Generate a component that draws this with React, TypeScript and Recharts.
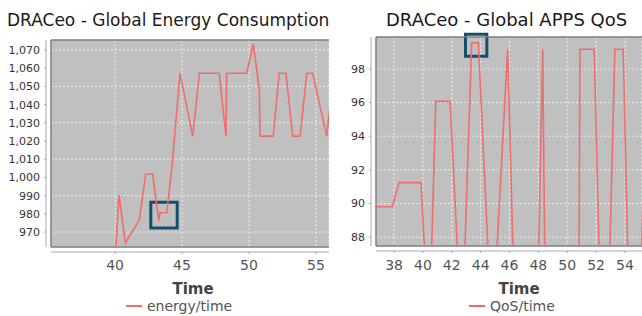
import React from 'react';
import { LineChart, Line, XAxis, YAxis, CartesianGrid, Legend, ReferenceArea, ReferenceLine } from 'recharts';

const FONT = '"DejaVu Sans", Verdana, sans-serif';
const RED = '#f26c6c';
const BOX_BLUE = '#134f6c';
const AXIS = '#a8a8a8';
const BORDER = '#7c7c7c';

// left chart: energy/time
const energyTime = [40.0, 40.3, 40.77, 41.81, 42.29, 42.81, 43.26, 43.36, 43.86, 44.25, 44.85, 45.8, 46.29, 47.78, 48.28, 48.33, 49.83, 50.32, 50.77, 50.82, 51.81, 52.25, 52.76, 53.26, 53.81, 54.31, 54.75, 55.8, 56.3];
const energyValue = [955, 990.3, 964.1, 976.6, 1001.9, 1001.9, 976.2, 980.6, 980.6, 1005.9, 1057.2, 1022.7, 1057.2, 1057.2, 1022.7, 1057.2, 1057.2, 1073.3, 1048.4, 1022.7, 1022.7, 1057.2, 1057.2, 1022.7, 1022.7, 1057.2, 1057.2, 1022.7, 1057.2];
const energyTicksX = [40, 45, 50, 55];
const energyTicksY = [970, 980, 990, 1000, 1010, 1020, 1030, 1040, 1050, 1060, 1070];
const energyDomainX = [35.22, 55.97];
const energyDomainY = [961.8, 1075.5];
const energyBoxX = [42.67, 44.64];
const energyBoxY = [972.3, 986.4];

// right chart: QoS/time
const qosTime = [36.7, 37.88, 38.35, 39.87, 40.43, 40.89, 41.88, 42.7, 43.38, 43.84, 44.8, 45.87, 46.4, 47.9, 48.3, 48.5, 50.8, 50.88, 51.87, 52.35, 52.8, 53.3, 53.88, 54.32, 55.0, 55.5];
const qosValue = [89.8, 89.8, 91.24, 91.24, 82, 96.07, 96.07, 82, 99.56, 99.56, 82, 99.17, 82, 82, 99.17, 82, 82, 99.17, 99.17, 82, 82, 99.17, 99.17, 82, 82, 99.17];
const qosTicksX = [38, 40, 42, 44, 46, 48, 50, 52, 54];
const qosTicksY = [88, 90, 92, 94, 96, 98];
const qosDomainX = [36.75, 55.18];
const qosDomainY = [87.47, 99.9];
const qosBoxX = [42.95, 44.43];
const qosBoxY = [98.76, 100.06];

const energyRows = energyTime.map((t, i) => ({ time: t, value: energyValue[i] }));
const qosRows = qosTime.map((t, i) => ({ time: t, value: qosValue[i] }));

function SeriesLegend({ label, pad }: { label: string; pad: number }) {
  return (
    <div style={{ paddingLeft: pad, height: 20, display: 'flex', alignItems: 'center', fontFamily: FONT, fontSize: 14, color: '#555' }}>
      <span style={{ display: 'inline-block', width: 16, height: 2, background: RED, marginRight: 5 }} />
      {label}
    </div>
  );
}

function Panel(props: any) {
  const { title, titleSize, titleLeft, left, width, right, rows, name, xDomain, yDomain, xTicks, yTicks, boxX, boxY, top, yWidth, xHeight, tickGap, legendPad, timeDx, fmt } = props;
  return (
    <div style={{ position: 'absolute', left, top: 0, width, height: 316, overflow: 'hidden' }}>
      <div style={{ position: 'absolute', top: 10, left: titleLeft, whiteSpace: 'nowrap', fontFamily: FONT, fontSize: titleSize, lineHeight: '20px', color: '#1a1a1a' }}>
        {title}
      </div>
      <LineChart width={width} height={316} data={rows} margin={{ top, right, left: 0, bottom: 0 }}>
        <CartesianGrid fill="#c0c0c0" fillOpacity={1} stroke="#ececec" strokeDasharray="2 2" />
        <XAxis
          dataKey="time"
          type="number"
          domain={xDomain}
          allowDataOverflow
          ticks={xTicks}
          height={xHeight}
          tickSize={2}
          tickMargin={tickGap}
          axisLine={{ stroke: AXIS, transform: 'translate(0 5)' }}
          tickLine={{ stroke: AXIS, transform: 'translate(0 5)' }}
          tick={{ fill: '#555', fontSize: 14, fontFamily: FONT }}
          label={{ value: 'Time', position: 'insideBottom', offset: 2, dx: timeDx, fill: '#444', fontSize: 15, fontWeight: 'bold', fontFamily: FONT }}
        />
        <YAxis
          type="number"
          domain={yDomain}
          allowDataOverflow
          ticks={yTicks}
          width={yWidth}
          tickSize={2}
          tickMargin={9}
          tickFormatter={fmt}
          axisLine={{ stroke: AXIS, transform: 'translate(-5 0)' }}
          tickLine={{ stroke: AXIS, transform: 'translate(-5 0)' }}
          tick={{ fill: '#333', fontSize: 11, fontFamily: FONT }}
        />
        <ReferenceLine y={yDomain[1]} stroke={BORDER} strokeWidth={1.5} ifOverflow="visible" />
        <ReferenceLine y={yDomain[0]} stroke={BORDER} strokeWidth={1.5} ifOverflow="visible" />
        <ReferenceLine x={xDomain[0]} stroke={BORDER} strokeWidth={1.5} ifOverflow="visible" />
        <Line type="linear" dataKey="value" name={name} stroke={RED} strokeWidth={1.6} dot={false} isAnimationActive={false} />
        <ReferenceArea x1={boxX[0]} x2={boxX[1]} y1={boxY[0]} y2={boxY[1]} fill="none" fillOpacity={0} stroke={BOX_BLUE} strokeWidth={3} ifOverflow="visible" />
        <Legend verticalAlign="bottom" content={() => <SeriesLegend label={name} pad={legendPad} />} />
      </LineChart>
    </div>
  );
}

export default function App() {
  return (
    <div style={{ position: 'absolute', left: 0, top: 0, width: 642, height: 316, background: '#fff', overflow: 'hidden' }}>
      <Panel
        title="DRACeo - Global Energy Consumption"
        titleSize={17}
        titleLeft={7}
        left={0}
        width={335}
        right={6}
        rows={energyRows}
        name="energy/time"
        xDomain={energyDomainX}
        yDomain={energyDomainY}
        xTicks={energyTicksX}
        yTicks={energyTicksY}
        boxX={energyBoxX}
        boxY={energyBoxY}
        top={40}
        yWidth={51}
        xHeight={49}
        tickGap={11}
        legendPad={126}
        timeDx={3}
        fmt={(v: number) => v.toLocaleString('en-US')}
      />
      <Panel
        title="DRACeo - Global APPS QoS"
        titleSize={18}
        titleLeft={51}
        left={335}
        width={307}
        right={0}
        rows={qosRows}
        name="QoS/time"
        xDomain={qosDomainX}
        yDomain={qosDomainY}
        xTicks={qosTicksX}
        yTicks={qosTicksY}
        boxX={qosBoxX}
        boxY={qosBoxY}
        top={37}
        yWidth={41}
        xHeight={50}
        tickGap={12}
        legendPad={134}
        timeDx={10}
        fmt={(v: number) => String(v)}
      />
    </div>
  );
}
